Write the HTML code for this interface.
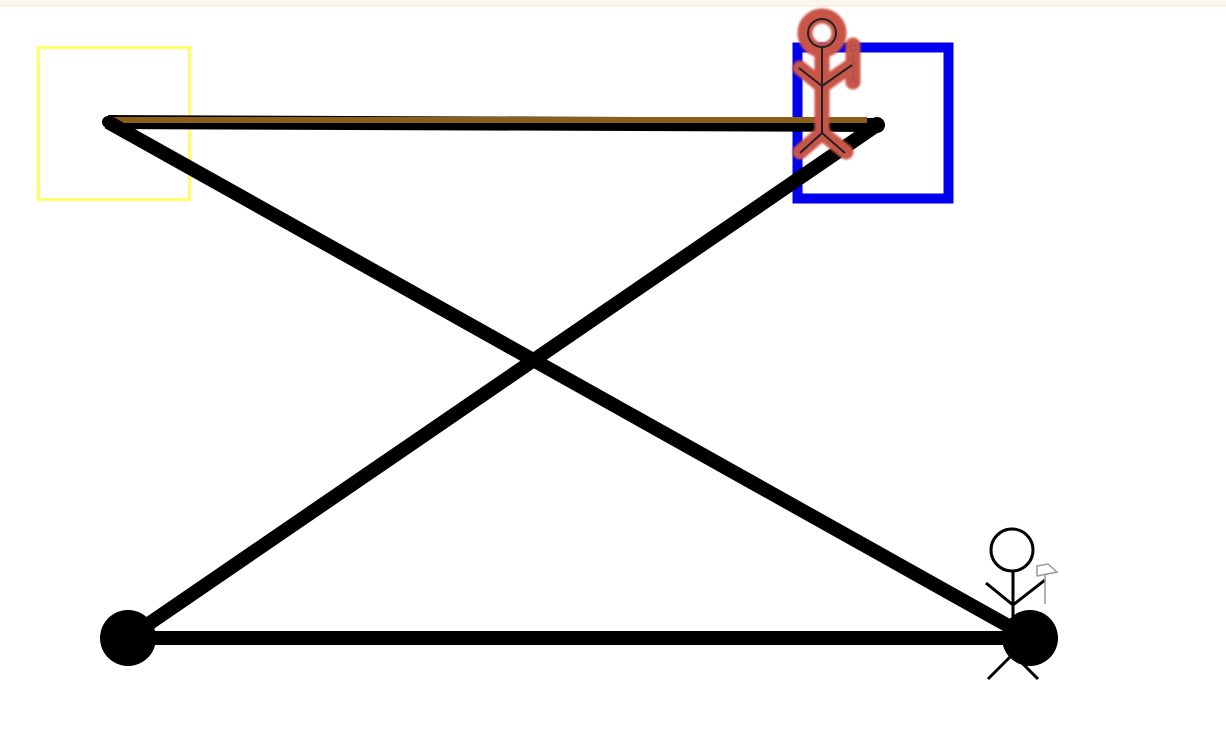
<!DOCTYPE html>
<html><head><meta charset="utf-8"><style>
html,body{margin:0;padding:0;background:#fff;width:1226px;height:734px;overflow:hidden;font-family:"Liberation Sans",sans-serif}
</style></head><body>
<svg width="1226" height="734" viewBox="0 0 1226 734">
<defs><filter id="glow" x="-50%" y="-50%" width="200%" height="200%"><feGaussianBlur stdDeviation="1"/></filter></defs>
<rect x="0" y="0" width="1226" height="6" fill="#fbf6ec"/>
<line x1="0" y1="6" x2="1226" y2="6" stroke="#f6e6cc" stroke-width="1"/>
<rect x="38.5" y="47.5" width="151" height="152" fill="none" stroke="#ffff66" stroke-width="3"/>
<rect x="797.5" y="47.5" width="151" height="151" fill="none" stroke="#0000ee" stroke-width="10"/>
<g id="edges"></g>
<g id="nodes"></g>
<g>
<g stroke="#c9544a" stroke-width="15" fill="none" stroke-linecap="round" stroke-linejoin="round" filter="url(#glow)">
<circle cx="822" cy="33" r="17"/>
<line x1="822" y1="50" x2="822" y2="133"/>
<line x1="800" y1="68" x2="822" y2="86"/><line x1="822" y1="86" x2="852" y2="65"/>
<line x1="800" y1="152" x2="822" y2="133"/><line x1="822" y1="133" x2="846" y2="152"/>
<line x1="853" y1="45" x2="853" y2="82"/>
</g>
<g stroke="#222" stroke-width="2" fill="none">
<circle cx="822" cy="33" r="14"/>
<line x1="822" y1="48" x2="822" y2="133"/>
<line x1="799" y1="68" x2="822" y2="86"/><line x1="822" y1="86" x2="852" y2="65"/>
<line x1="800" y1="153" x2="822" y2="133"/><line x1="822" y1="133" x2="845" y2="153"/>
</g>
<g stroke="#a05050" stroke-width="1" fill="none"><circle cx="853" cy="48" r="3"/><line x1="853" y1="51" x2="853" y2="75"/><line x1="849" y1="58" x2="857" y2="66"/><line x1="850" y1="82" x2="853" y2="75"/><line x1="853" y1="75" x2="856" y2="82"/></g>
</g>
<g stroke="#000" stroke-width="3" fill="none">
<circle cx="1012" cy="550" r="21" fill="#fff"/>
<line x1="1013" y1="572" x2="1013" y2="654"/>
<line x1="986" y1="583" x2="1013" y2="605"/><line x1="1013" y1="605" x2="1045" y2="580"/>
<line x1="988" y1="679" x2="1013" y2="654"/><line x1="1013" y1="654" x2="1038" y2="679"/>
<g stroke="#999" stroke-width="1.5">
<line x1="1045" y1="575" x2="1045" y2="604"/>
<path d="M1037 576 L1037 566 L1048 564 L1057 572 L1037 576" fill="#fff"/>
</g>
</g>
</svg>
<script>
const nodeIds=['A','B','C','D'];
const nodeX=[108,877,128,1030];
const nodeY=[122,125,638,638];
const nodeR=[6,8,28,28];
const edgeFrom=[0,0,1,2];
const edgeTo=[1,3,2,3];
const edgeColor=['brown','black','black','black'];
const NS='http://www.w3.org/2000/svg';
const eg=document.getElementById('edges'), ng=document.getElementById('nodes');
for(let i=0;i<edgeFrom.length;i++){
  const a=edgeFrom[i],b=edgeTo[i];
  const l=document.createElementNS(NS,'line');
  l.setAttribute('x1',nodeX[a]);l.setAttribute('y1',nodeY[a]);l.setAttribute('x2',nodeX[b]);l.setAttribute('y2',nodeY[b]);
  l.setAttribute('stroke','#000');l.setAttribute('stroke-width',14);
  
  
  eg.appendChild(l);
  if(edgeColor[i]==='brown'){
    const t=document.createElementNS(NS,'line');
    t.setAttribute('x1',nodeX[a]);t.setAttribute('y1',nodeY[a]-2);t.setAttribute('x2',nodeX[b]-10);t.setAttribute('y2',nodeY[a]-2);
    t.setAttribute('stroke','#8b5e1a');t.setAttribute('stroke-width',6);
    
    
    eg.appendChild(t);
  }
}
for(let i=0;i<nodeIds.length;i++){
  const c=document.createElementNS(NS,'circle');
  c.setAttribute('cx',nodeX[i]);c.setAttribute('cy',nodeY[i]);c.setAttribute('r',nodeR[i]);c.setAttribute('fill','#000');
  
  
  ng.appendChild(c);
}
</script>
</body></html>
